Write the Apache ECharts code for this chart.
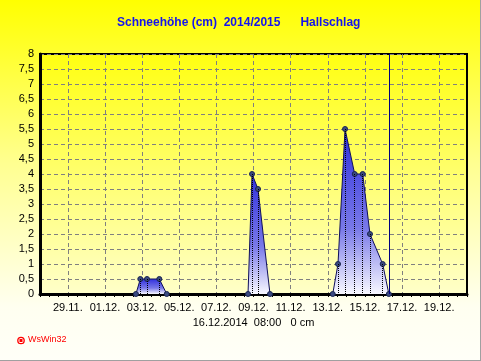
<!DOCTYPE html>
<html><head><meta charset="utf-8">
<script src="https://cdn.jsdelivr.net/npm/echarts@6/dist/echarts.min.js"></script>
<style>
html,body{margin:0;padding:0;}
#c{width:481px;height:361px;background:linear-gradient(to bottom,#ffff00 0%,#ffff90 45%,#fffff0 85%,#fffff8 100%);}
</style>
</head><body><div id="c"></div>
<script>
// ---- data ----
const titleText = 'Schneehöhe (cm)  2014/2015      Hallschlag';
const axisMin = '2014-11-27 12:00';
const axisMax = '2014-12-20 12:00';
const tickLabels = ['29.11.','01.12.','03.12.','05.12.','07.12.','09.12.','11.12.','13.12.','15.12.','17.12.','19.12.'];
const tickYear = 2014;
const times1 = ['2014-12-02 16:00','2014-12-02 21:40','2014-12-03 06:20','2014-12-03 22:15','2014-12-04 07:50'];
const values1 = [0, 0.5, 0.5, 0.5, 0];
const times2 = ['2014-12-08 16:55','2014-12-08 22:05','2014-12-09 05:50','2014-12-09 21:20'];
const values2 = [0, 4, 3.5, 0];
const times3 = ['2014-12-13 06:25','2014-12-13 13:15','2014-12-13 22:20','2014-12-14 10:50','2014-12-14 21:10','2014-12-15 06:35','2014-12-15 23:00','2014-12-16 07:00'];
const values3 = [0, 1, 5.5, 4, 4, 2, 1, 0];
const currentTime = '2014-12-16 08:00';
const currentLabel = '16.12.2014  08:00   0 cm';
const yMin = 0, yMax = 8, yStep = 0.5;

// ---- helpers ----
function parseT(s){
  const [d,t] = s.split(' ');
  const [Y,M,D] = d.split('-').map(Number);
  const [h,m] = t.split(':').map(Number);
  return Date.UTC(Y, M-1, D, h, m);
}
function parseTick(s){
  const p = s.split('.');
  return Date.UTC(tickYear, Number(p[1])-1, Number(p[0]));
}
const tickTimes = tickLabels.map(parseTick);
const HALF_DAY = 12*3600*1000;
const FONT = '"Liberation Sans", Arial, sans-serif';

function makeSeries(times, values){
  const data = times.map((t,i)=>[parseT(t), values[i]]);
  const drops = data.filter(p=>p[1]>0).map(p=>[{coord:[p[0],p[1]]},{coord:[p[0],0]}]);
  return {
    type:'line', data, xAxisIndex:0, yAxisIndex:0,
    symbol:'circle', symbolSize:5, showSymbol:true,
    itemStyle:{color:'#3a4a80', borderColor:'#1a2450', borderWidth:1},
    lineStyle:{color:'#10105a', width:1},
    areaStyle:{color:new echarts.graphic.LinearGradient(0,0,0,1,[
      {offset:0,color:'#3030dd'},{offset:0.6,color:'#7878e8'},{offset:1,color:'#f8f8ff'}]), opacity:1},
    markLine:{silent:true, symbol:['none','none'], label:{show:false}, animation:false,
      lineStyle:{type:'dotted', color:'#000000', width:1}, data:drops},
    animation:false
  };
}

const chart = echarts.init(document.getElementById('c'), null, {renderer:'canvas'});
const s1 = makeSeries(times1, values1);
const s2 = makeSeries(times2, values2);
const s3 = makeSeries(times3, values3);
s3.markLine.data.push([{coord:[parseT(currentTime), yMax], lineStyle:{type:'solid', color:'#000080', width:1}},{coord:[parseT(currentTime), yMin]}]);

chart.setOption({
  backgroundColor:'transparent',
  animation:false,
  title:{text:titleText, left:117, top:17, padding:0,
    textStyle:{fontSize:12, fontWeight:'bold', color:'#1414f0', fontFamily:FONT}},
  grid:{left:40, right:14, top:54, bottom:67, show:true, borderColor:'#000', borderWidth:2,
    backgroundColor:new echarts.graphic.LinearGradient(0,0,0,1,[{offset:0,color:'#ffff10'},{offset:1,color:'#ffffca'}])},
  xAxis:[{
    type:'value', min:parseT(axisMin), max:parseT(axisMax), position:'bottom',
    axisLine:{onZero:false, lineStyle:{color:'#000', width:3}},
    axisTick:{show:true, customValues:tickTimes, length:3, lineStyle:{color:'#000'}},
    axisLabel:{customValues:tickTimes, margin:8, color:'#000', fontSize:11, fontFamily:FONT,
      formatter:v=>{const i=tickTimes.indexOf(v); return i>=0?tickLabels[i]:'';}},
    splitLine:{show:true, lineStyle:{color:'#808080', type:[4,3], width:1}},
    name:currentLabel, nameLocation:'middle', nameGap:21,
    nameTextStyle:{color:'#000', fontSize:11, fontFamily:FONT}
  },{
    type:'value', min:parseT(axisMin), max:parseT(axisMax), position:'bottom', interval:HALF_DAY,
    axisLine:{show:false, onZero:false}, axisTick:{show:true, length:3, lineStyle:{color:'#000'}},
    axisLabel:{show:false}, splitLine:{show:false}
  }],
  yAxis:{type:'value', min:yMin, max:yMax, interval:yStep,
    axisLine:{show:true, lineStyle:{color:'#000', width:3}},
    axisTick:{show:false},
    axisLabel:{margin:6, color:'#000', fontSize:11, fontFamily:FONT, formatter:v=>String(v).replace('.',',')},
    splitLine:{show:true, lineStyle:{color:'#808080', type:[4,3], width:1}}
  },
  graphic:[
    {type:'circle', shape:{cx:21, cy:340.5, r:3.2}, style:{fill:'none', stroke:'#ff0000', lineWidth:1.3}},
    {type:'rect', shape:{x:19.5, y:339, width:3, height:3}, style:{fill:'#ff0000'}},
    {type:'text', left:28, top:335, style:{text:'WsWin32', fill:'#ff0000', font:'9px '+FONT}},
    {type:'line', shape:{x1:480.5, y1:0, x2:480.5, y2:361}, style:{stroke:'#a0a0a0', lineWidth:1}},
    {type:'line', shape:{x1:0, y1:360.5, x2:481, y2:360.5}, style:{stroke:'#a0a0a0', lineWidth:1}}
  ],
  series:[s1, s2, s3]
});
</script>
</body></html>
